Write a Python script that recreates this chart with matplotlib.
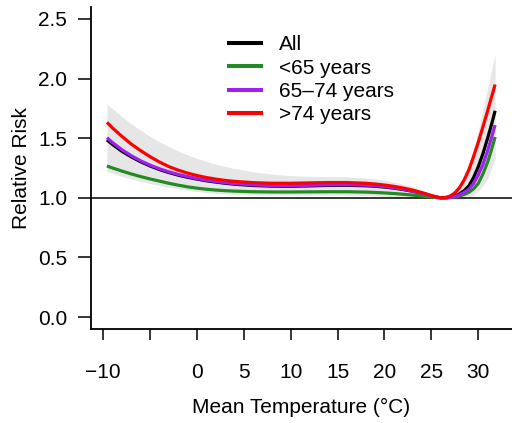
import matplotlib
matplotlib.use("Agg")
import matplotlib.pyplot as plt

plt.rcParams['font.family'] = ['Liberation Sans', 'DejaVu Sans']

temp = [-9.6, -9, -8, -7, -6, -5, -4, -3, -2, -1, 0, 1, 2, 3, 4, 6, 8, 10, 12, 14, 16,
        18, 19, 20, 21, 22, 23, 24, 24.5, 25, 25.5, 26, 26.5, 27, 27.5, 28, 28.5, 29,
        29.5, 30, 30.5, 31, 31.4, 31.8]

rr_all = [1.485, 1.447, 1.39, 1.343, 1.302, 1.267, 1.237, 1.212, 1.19, 1.172, 1.157,
          1.143, 1.132, 1.122, 1.114, 1.103, 1.098, 1.097, 1.100, 1.104, 1.105,
          1.101, 1.097, 1.09, 1.081, 1.069, 1.055, 1.036, 1.026, 1.015, 1.006,
          1.0, 1.0, 1.005, 1.015, 1.033, 1.06, 1.10, 1.17, 1.26, 1.37, 1.50, 1.61, 1.73]
rr_lt65 = [1.267, 1.25, 1.224, 1.20, 1.178, 1.158, 1.14, 1.122, 1.106, 1.092, 1.081,
           1.072, 1.065, 1.06, 1.056, 1.051, 1.049, 1.049, 1.05, 1.051, 1.051,
           1.048, 1.045, 1.041, 1.036, 1.03, 1.023, 1.014, 1.01, 1.005, 1.002,
           1.0, 0.999, 1.001, 1.006, 1.015, 1.028, 1.046, 1.075, 1.12, 1.20, 1.30, 1.40, 1.51]
rr_65_74 = [1.504, 1.463, 1.403, 1.353, 1.31, 1.274, 1.244, 1.218, 1.196, 1.178, 1.162,
            1.148, 1.137, 1.127, 1.119, 1.108, 1.103, 1.102, 1.105, 1.109, 1.110,
            1.106, 1.101, 1.094, 1.084, 1.072, 1.057, 1.038, 1.027, 1.016, 1.006,
            1.0, 0.999, 1.003, 1.011, 1.025, 1.045, 1.072, 1.12, 1.19, 1.28, 1.395, 1.50, 1.61]
rr_gt74 = [1.633, 1.585, 1.515, 1.45, 1.395, 1.345, 1.30, 1.262, 1.232, 1.207, 1.187,
           1.170, 1.157, 1.146, 1.138, 1.127, 1.122, 1.122, 1.125, 1.128, 1.128,
           1.122, 1.116, 1.107, 1.096, 1.082, 1.065, 1.043, 1.032, 1.019, 1.008,
           1.0, 1.003, 1.015, 1.04, 1.085, 1.15, 1.235, 1.345, 1.465, 1.595, 1.73, 1.84, 1.95]
ci_upper = [1.787, 1.745, 1.68, 1.62, 1.565, 1.515, 1.47, 1.43, 1.393, 1.36, 1.331,
            1.305, 1.283, 1.263, 1.246, 1.218, 1.198, 1.186, 1.18, 1.178, 1.175,
            1.166, 1.158, 1.147, 1.133, 1.115, 1.093, 1.064, 1.048, 1.03, 1.013,
            1.0, 1.006, 1.028, 1.065, 1.115, 1.185, 1.285, 1.41, 1.56, 1.74, 1.92, 2.06, 2.20]
ci_lower = [1.22, 1.205, 1.18, 1.158, 1.138, 1.12, 1.103, 1.088, 1.075, 1.063, 1.053,
            1.045, 1.038, 1.033, 1.029, 1.024, 1.022, 1.021, 1.022, 1.023, 1.022,
            1.019, 1.016, 1.012, 1.007, 1.002, 0.998, 0.995, 0.995, 0.996, 0.998,
            1.0, 0.996, 0.99, 0.985, 0.984, 0.99, 1.005, 1.025, 1.055, 1.10, 1.165, 1.245, 1.33]

labels = ["All", "<65 years", "65\u201374 years", ">74 years"]
colors = ["black", "#228B22", "#A020F0", "red"]
xticks = [-10, -5, 0, 5, 10, 15, 20, 25, 30]
xticklabels = ["\u221210", "", "0", "5", "10", "15", "20", "25", "30"]
yticks = [0.0, 0.5, 1.0, 1.5, 2.0, 2.5]

FS = 15

fig = plt.figure(figsize=(5.12, 4.23), dpi=100)
ax = fig.add_axes([91/512, 94/423, 1 - 91/512, (329 - 7)/423])

ax.fill_between(temp, ci_lower, ci_upper, color="#E6E6E6", lw=0)
ax.axhline(1.0, color="black", lw=1.1)
series = [rr_all, rr_lt65, rr_65_74, rr_gt74]
for s, c, lab in zip(series, colors, labels):
    ax.plot(temp, s, color=c, lw=2.3, label=lab, solid_capstyle="butt")
ax.set_xlim(-11.3, 33.6)
ax.set_ylim(-0.1, 2.6)

ax.spines['top'].set_visible(False)
ax.spines['right'].set_visible(False)
ax.spines['left'].set_linewidth(1.3)
ax.spines['bottom'].set_linewidth(1.3)

ax.set_xticks(xticks)
ax.set_xticklabels(xticklabels)
ax.set_yticks(yticks)
ax.set_yticklabels([f"{v:.1f}" for v in yticks])
ax.tick_params(axis='x', length=8.2, width=1.1, pad=16, labelsize=FS)
ax.tick_params(axis='y', length=9.2, width=1.1, pad=8, labelsize=FS)

ax.set_xlabel("Mean Temperature (\u00b0C)", fontsize=FS, labelpad=12)
ax.set_ylabel("Relative Risk", fontsize=FS, labelpad=5)

leg = ax.legend(loc="upper left", bbox_to_anchor=((227 - 91)/421, 1 - (35.5 - 7)/322),
                frameon=False, fontsize=FS, handlelength=1.73, handletextpad=0.77,
                labelspacing=0.2, borderaxespad=0, borderpad=0)
for line in leg.get_lines():
    line.set_linewidth(2.9)

fig.savefig("out.png", dpi=100)
